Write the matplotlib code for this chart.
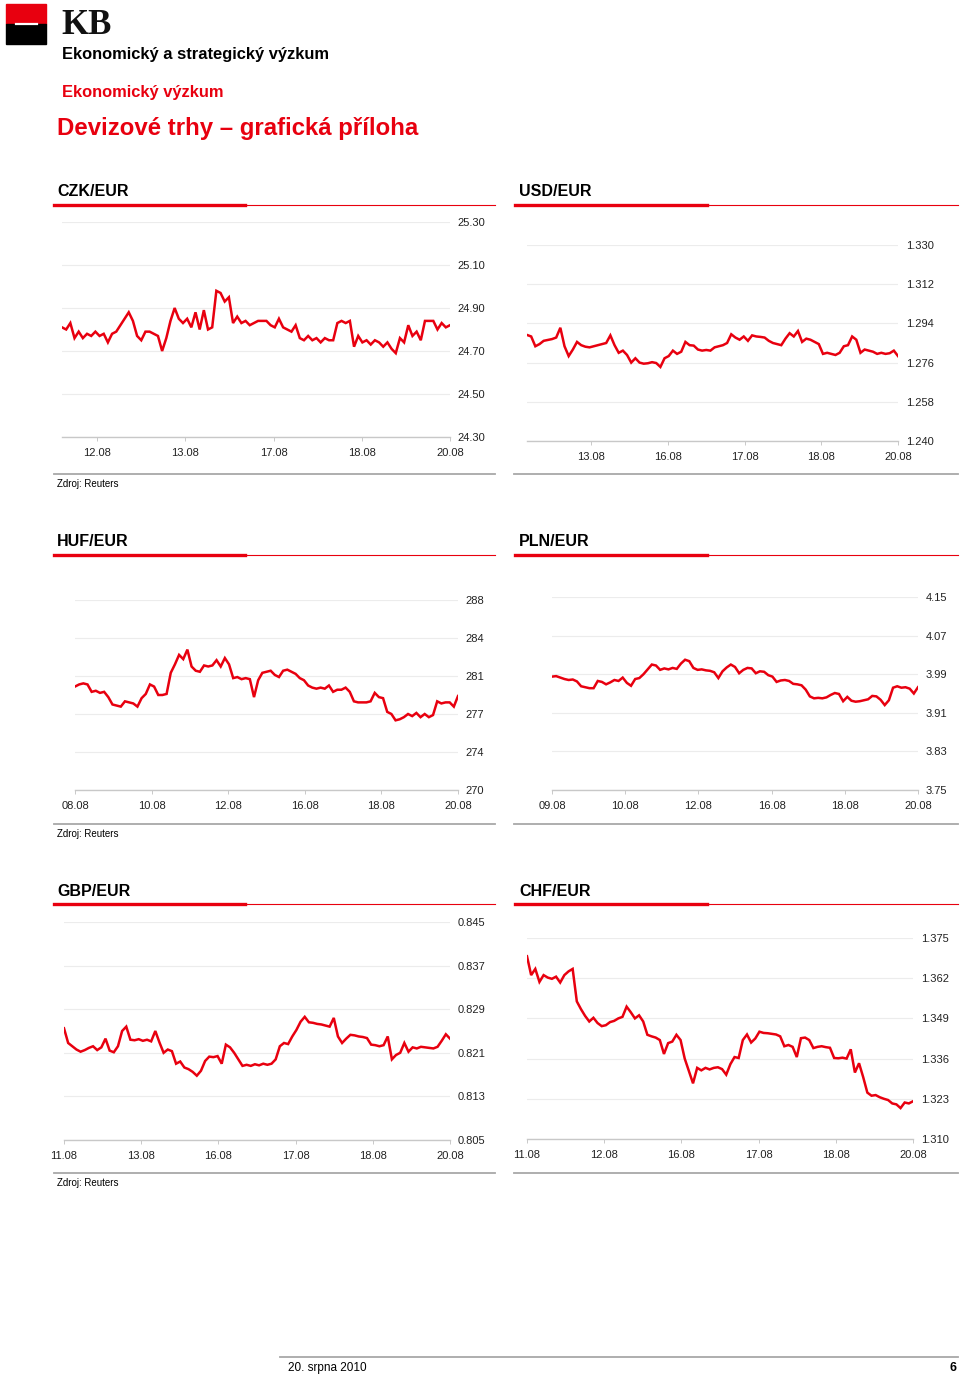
import numpy as np
import matplotlib
matplotlib.use('Agg')
import matplotlib.pyplot as plt
from matplotlib.patches import Rectangle
from matplotlib.lines import Line2D

plt.rcParams['font.family'] = ['Liberation Sans', 'DejaVu Sans']

W, H = 960, 1378
RED = '#e8000f'

# ---- data ----
czk_days = ['12.08', '13.08', '17.08', '18.08', '20.08']
czk_yticks = ['24.30', '24.50', '24.70', '24.90', '25.10', '25.30']
czk = [24.81, 24.80, 24.83, 24.76, 24.79, 24.76, 24.78, 24.77, 24.79, 24.77,
       24.78, 24.74, 24.78, 24.79, 24.82, 24.85, 24.88, 24.84, 24.77, 24.75,
       24.79, 24.79, 24.78, 24.77, 24.70, 24.76, 24.84, 24.90, 24.85, 24.83,
       24.85, 24.81, 24.88, 24.80, 24.89, 24.80, 24.81, 24.98, 24.97, 24.93,
       24.95, 24.83, 24.86, 24.83, 24.84, 24.82, 24.83, 24.84, 24.84, 24.84,
       24.82, 24.81, 24.85, 24.81, 24.80, 24.79, 24.82, 24.76, 24.75, 24.77,
       24.75, 24.76, 24.74, 24.76, 24.75, 24.75, 24.83, 24.84, 24.83, 24.84,
       24.72, 24.77, 24.74, 24.75, 24.73, 24.75, 24.74, 24.72, 24.74, 24.71,
       24.69, 24.76, 24.74, 24.82, 24.77, 24.79, 24.75, 24.84, 24.84, 24.84,
       24.80, 24.83, 24.81, 24.82]

usd_days = ['13.08', '16.08', '17.08', '18.08', '20.08']
usd_yticks = ['1.240', '1.258', '1.276', '1.294', '1.312', '1.330']
usd = [1.2887, 1.2880, 1.2835, 1.2845, 1.2860, 1.2864, 1.2868, 1.2875, 1.2920, 1.2835,
       1.2790, 1.2820, 1.2855, 1.2840, 1.2833, 1.2830, 1.2835, 1.2840, 1.2845, 1.2850,
       1.2885, 1.2840, 1.2805, 1.2815, 1.2795, 1.2760, 1.2780, 1.2760, 1.2755, 1.2757,
       1.2762, 1.2758, 1.2740, 1.2780, 1.2790, 1.2815, 1.2800, 1.2810, 1.2855, 1.2840,
       1.2838, 1.2820, 1.2815, 1.2818, 1.2815, 1.2830, 1.2835, 1.2840, 1.2850, 1.2890,
       1.2875, 1.2865, 1.2880, 1.2860, 1.2885, 1.2880, 1.2878, 1.2875, 1.2860, 1.2850,
       1.2845, 1.2840, 1.2870, 1.2895, 1.2880, 1.2905, 1.2855, 1.2870, 1.2865, 1.2855,
       1.2845, 1.2800, 1.2805, 1.2800, 1.2795, 1.2805, 1.2835, 1.2840, 1.2880, 1.2865,
       1.2805, 1.2820, 1.2815, 1.2810, 1.2800, 1.2805, 1.2800, 1.2803, 1.2815, 1.2790]

huf_days = ['08.08', '10.08', '12.08', '16.08', '18.08', '20.08']
huf_yticks = ['270', '274', '277', '281', '284', '288']
huf = [279.8, 280.0, 280.1, 280.0, 279.3, 279.4, 279.2, 279.3, 278.8, 278.1,
       278.0, 277.9, 278.4, 278.3, 278.2, 277.9, 278.7, 279.1, 280.0, 279.8,
       279.0, 279.0, 279.1, 281.1, 281.9, 282.8, 282.4, 283.3, 281.7, 281.3,
       281.2, 281.8, 281.7, 281.8, 282.3, 281.7, 282.5, 281.9, 280.6, 280.7,
       280.5, 280.6, 280.5, 278.8, 280.4, 281.1, 281.2, 281.3, 280.9, 280.7,
       281.3, 281.4, 281.2, 281.0, 280.6, 280.4, 279.9, 279.7, 279.6, 279.7,
       279.6, 279.9, 279.3, 279.5, 279.5, 279.7, 279.3, 278.4, 278.3, 278.3,
       278.3, 278.4, 279.2, 278.8, 278.7, 277.4, 277.2, 276.6, 276.7, 276.9,
       277.2, 277.0, 277.3, 276.9, 277.2, 276.9, 277.1, 278.4, 278.2, 278.3,
       278.3, 277.9, 278.9]

pln_days = ['09.08', '10.08', '12.08', '16.08', '18.08', '20.08']
pln_yticks = ['3.75', '3.83', '3.91', '3.99', '4.07', '4.15']
pln = [3.985, 3.986, 3.983, 3.980, 3.978, 3.979, 3.975, 3.965, 3.963, 3.961,
       3.961, 3.976, 3.974, 3.969, 3.973, 3.978, 3.976, 3.983, 3.972, 3.966,
       3.980, 3.982, 3.990, 4.000, 4.010, 4.008, 3.999, 4.002, 4.000, 4.003,
       4.001, 4.012, 4.020, 4.017, 4.003, 3.999, 4.000, 3.998, 3.997, 3.994,
       3.982, 3.996, 4.004, 4.010, 4.005, 3.992, 3.999, 4.003, 4.002, 3.992,
       3.996, 3.995, 3.988, 3.985, 3.974, 3.977, 3.978, 3.976, 3.970, 3.969,
       3.967, 3.958, 3.944, 3.940, 3.941, 3.940, 3.942, 3.947, 3.951, 3.949,
       3.934, 3.943, 3.935, 3.933, 3.934, 3.936, 3.938, 3.945, 3.944, 3.937,
       3.926, 3.936, 3.962, 3.965, 3.962, 3.963, 3.960, 3.950, 3.963]

gbp_days = ['11.08', '13.08', '16.08', '17.08', '18.08', '20.08']
gbp_yticks = ['0.805', '0.813', '0.821', '0.829', '0.837', '0.845']
gbp = [0.8255, 0.8228, 0.8222, 0.8216, 0.8212, 0.8215, 0.8219, 0.8222, 0.8215, 0.8220,
       0.8236, 0.8214, 0.8211, 0.8222, 0.8250, 0.8258, 0.8234, 0.8233, 0.8235, 0.8232,
       0.8234, 0.8231, 0.8250, 0.8229, 0.8210, 0.8216, 0.8213, 0.8190, 0.8194, 0.8183,
       0.8180, 0.8175, 0.8168, 0.8177, 0.8195, 0.8203, 0.8202, 0.8204, 0.8190, 0.8225,
       0.8220, 0.8210, 0.8198, 0.8186, 0.8188, 0.8186, 0.8189, 0.8187, 0.8190, 0.8188,
       0.8190, 0.8198, 0.8222, 0.8228, 0.8226, 0.8240, 0.8252, 0.8267, 0.8276, 0.8266,
       0.8265, 0.8263, 0.8262, 0.8260, 0.8258, 0.8274, 0.8240, 0.8228, 0.8236, 0.8243,
       0.8242, 0.8240, 0.8239, 0.8237, 0.8225, 0.8224, 0.8222, 0.8224, 0.8240, 0.8198,
       0.8206, 0.8210, 0.8228, 0.8212, 0.8220, 0.8218, 0.8221, 0.8220, 0.8219, 0.8218,
       0.8221, 0.8232, 0.8244, 0.8236]

chf_days = ['11.08', '12.08', '16.08', '17.08', '18.08', '20.08']
chf_yticks = ['1.310', '1.323', '1.336', '1.349', '1.362', '1.375']
chf = [1.3691, 1.3630, 1.3650, 1.3608, 1.3630, 1.3622, 1.3618, 1.3625, 1.3606, 1.3630,
       1.3642, 1.3650, 1.3545, 1.3520, 1.3498, 1.3480, 1.3492, 1.3475, 1.3465, 1.3468,
       1.3478, 1.3482, 1.3490, 1.3495, 1.3528, 1.3510, 1.3490, 1.3500, 1.3480, 1.3437,
       1.3432, 1.3428, 1.3420, 1.3375, 1.3410, 1.3415, 1.3437, 1.3420, 1.3360, 1.3320,
       1.3280, 1.3330, 1.3322, 1.3330, 1.3325, 1.3330, 1.3332, 1.3326, 1.3308, 1.3342,
       1.3365, 1.3362, 1.3420, 1.3438, 1.3412, 1.3425, 1.3447, 1.3443, 1.3442, 1.3440,
       1.3438, 1.3432, 1.3400, 1.3404, 1.3398, 1.3365, 1.3426, 1.3428, 1.3420, 1.3394,
       1.3398, 1.3400, 1.3397, 1.3395, 1.3362, 1.3361, 1.3363, 1.3360, 1.3390, 1.3315,
       1.3345, 1.3300, 1.3250, 1.3240, 1.3242, 1.3235, 1.3230, 1.3226, 1.3215, 1.3212,
       1.3200, 1.3218, 1.3215, 1.3222]

fig = plt.figure(figsize=(W / 100, H / 100), dpi=100)


def box(x0, y0, x1, y1):
    return [x0 / W, 1 - y1 / H, (x1 - x0) / W, (y1 - y0) / H]


def hline(x0, x1, y, color, lw):
    fig.add_artist(Line2D([x0 / W, x1 / W], [1 - y / H, 1 - y / H],
                          color=color, lw=lw, transform=fig.transFigure))


def text(x, y, s, **kw):
    fig.text(x / W, 1 - y / H, s, va='center', **kw)


def panel(rect, values, days, x0, yticks):
    ax = fig.add_axes(box(*rect))
    n = len(days) - 1
    x = np.linspace(x0, n, len(values))
    ax.plot(x, values, color=RED, lw=1.8, solid_joinstyle='miter')
    lo, hi = float(yticks[0]), float(yticks[-1])
    ax.set_xlim(x0, n)
    ax.set_ylim(lo, hi)
    ax.set_yticks(np.linspace(lo, hi, len(yticks)))
    ax.set_yticklabels(yticks)
    ax.yaxis.tick_right()
    ax.tick_params(axis='y', length=0, pad=5.5, labelsize=8, labelcolor='#222222')
    ax.set_xticks(range(len(days)))
    ax.set_xticklabels(days)
    ax.tick_params(axis='x', length=3, width=0.6, color='#c0c0c0', pad=5,
                   labelsize=8, labelcolor='#222222')
    for s in ['top', 'left', 'right']:
        ax.spines[s].set_visible(False)
    ax.spines['bottom'].set_color('#c8c8c8')
    ax.spines['bottom'].set_linewidth(1.0)
    ax.grid(axis='y', color='#ececec', lw=0.8)
    ax.set_axisbelow(True)
    ax.patch.set_alpha(0)
    return ax


# ---- header ----
fig.add_artist(Rectangle((6 / W, 1 - 24 / H), 40 / W, 20 / H, color=RED,
                         transform=fig.transFigure))
fig.add_artist(Rectangle((6 / W, 1 - 44 / H), 40 / W, 20 / H, color='black',
                         transform=fig.transFigure))
hline(16, 37, 23.5, 'white', 1.6)
text(61, 26, 'KB', fontsize=25, family='Liberation Serif', weight='bold', color='#111111')
text(62, 54, 'Ekonomický a strategický výzkum', fontsize=11.9, weight='bold')
text(62, 93, 'Ekonomický výzkum', fontsize=11.9, weight='bold', color=RED)
text(57, 128, 'Devizové trhy – grafická příloha', fontsize=17.3, weight='bold', color=RED)

# ---- section titles ----
for yt in [191, 541, 890]:
    yb = yt + 14
    for tx, bx0, bx1, bx2 in [(57, 54, 245, 495), (519, 515, 707, 958)]:
        hline(bx1, bx2, yb, RED, 0.8)
        hline(bx0, bx1, yb, RED, 2.4)
titles = [('CZK/EUR', 57, 192), ('USD/EUR', 519, 192),
          ('HUF/EUR', 57, 542), ('PLN/EUR', 519, 542),
          ('GBP/EUR', 57, 891), ('CHF/EUR', 519, 891)]
for t, x, y in titles:
    text(x, y, t, fontsize=11.5, weight='bold')

# ---- charts ----
panel((62, 222, 450, 437), czk, czk_days, -0.4, czk_yticks)
panel((527, 245, 898, 441), usd, usd_days, -0.835, usd_yticks)
panel((75, 600, 458, 790), huf, huf_days, 0, huf_yticks)
panel((552, 597, 918, 790), pln, pln_days, 0, pln_yticks)
panel((64, 922, 450, 1140), gbp, gbp_days, 0, gbp_yticks)
panel((527, 938, 913, 1139), chf, chf_days, 0, chf_yticks)

# ---- separators and sources ----
for ys in [474, 824, 1173]:
    hline(54, 495, ys, '#a8a8a8', 1.3)
    hline(514, 958, ys, '#a8a8a8', 1.3)
    text(57, ys + 10, 'Zdroj: Reuters', fontsize=7)

# ---- footer ----
hline(280, 958, 1357, '#a8a8a8', 1.3)
text(288, 1368, '20. srpna 2010', fontsize=8.5)
text(956, 1368, '6', fontsize=9, weight='bold', ha='right')

fig.savefig('out.png', dpi=100)
